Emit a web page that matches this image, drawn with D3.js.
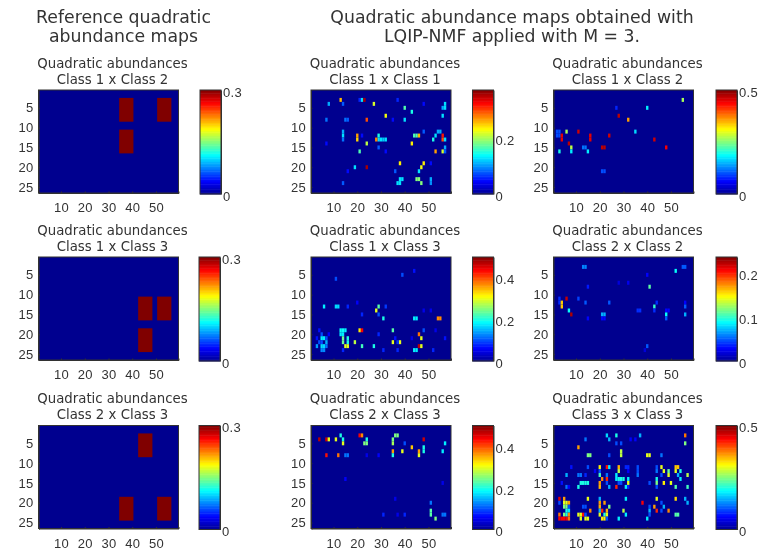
<!DOCTYPE html>
<html>
<head>
<meta charset="utf-8">
<script src="https://cdn.jsdelivr.net/npm/d3@7"></script>
<style>
  html, body { margin: 0; padding: 0; background: #fff; }
  svg { display: block; filter: blur(0.45px); }
  text { font-family: "DejaVu Sans", sans-serif; fill: #333; }
  .tick text { font-family: "Liberation Sans", sans-serif; font-size: 13px; letter-spacing: 0.3px; }
  .ptitle { font-size: 13.3px; }
  .head { font-size: 17.3px; }
  .domain, .tick line { stroke: #333; }
</style>
</head>
<body>
<div id="chart"></div>
<script>
// map size in pixels of the original data: 59 columns by 26 rows
const xTicks = [10, 20, 30, 40, 50];
const yTicks = [5, 10, 15, 20, 25];

// reference maps: blocks of [colFrom, colTo, rowFrom, rowTo], all at 0.3
const ref12 = [[35, 40, 3, 8], [51, 56, 3, 8], [35, 40, 11, 16]];
const ref13 = [[43, 48, 11, 16], [51, 56, 11, 16], [43, 48, 19, 24]];
const ref23 = [[43, 48, 3, 8], [35, 40, 19, 24], [51, 56, 19, 24]];

// estimated maps: [col, row, value]
const est11 = [[8,4,.11],[13,3,.26],[14,4,.08],[21,3,.06],[22,3,.13],[23,3,.36],[27,4,.22],[37,3,.06],[40,5,.17],[43,6,.15],[48,4,.05],[57,4,.13],[57,5,.13],[56,5,.11],[56,7,.13],[32,7,.23],[7,8,.09],[15,8,.09],[16,8,.08],[24,8,.3],[35,8,.05],[40,8,.13],[14,11,.11],[14,12,.13],[14,13,.09],[20,12,.27],[20,13,.25],[22,12,.05],[29,12,.15],[29,13,.13],[28,13,.28],[30,13,.13],[31,13,.12],[32,13,.13],[24,14,.21],[44,12,.17],[45,12,.17],[46,12,.26],[48,11,.08],[54,11,.11],[55,11,.11],[53,12,.13],[52,13,.15],[56,12,.32],[56,13,.3],[57,13,.13],[7,14,.05],[43,14,.24],[29,15,.08],[57,15,.11],[21,16,.17],[32,16,.05],[53,16,.27],[56,16,.22],[57,16,.08],[38,19,.24],[48,19,.24],[47,20,.23],[51,19,.05],[19,20,.13],[24,20,.36],[16,21,.05],[36,21,.08],[46,21,.13],[38,23,.13],[39,23,.13],[37,24,.13],[38,24,.13],[45,23,.19],[46,23,.19],[47,24,.19],[51,23,.11],[51,24,.1],[14,24,.08]];
const est12 = [[55,3,.27],[27,5,.08],[40,5,.18],[28,7,.47],[32,8,.36],[35,11,.17],[2,11,.1],[3,11,.1],[2,12,.1],[3,12,.1],[4,12,.45],[4,13,.45],[6,11,.27],[11,11,.46],[16,12,.45],[16,13,.45],[24,12,.46],[7,14,.47],[43,13,.46],[48,15,.44],[8,15,.28],[8,16,.18],[3,16,.2],[13,15,.12],[14,15,.12],[15,16,.18],[21,15,.47],[22,15,.47],[21,21,.1],[22,21,.1]];
const est13 = [[44,4,.07],[39,5,.1],[11,6,.1],[6,13,.18],[11,13,.17],[12,13,.17],[16,13,.08],[20,12,.06],[22,15,.08],[29,13,.23],[28,14,.3],[29,15,.1],[32,13,.09],[31,16,.2],[44,16,.18],[45,16,.18],[54,16,.37],[55,16,.37],[48,14,.05],[51,14,.05],[4,19,.07],[13,19,.19],[14,19,.19],[15,19,.18],[21,19,.32],[22,19,.44],[35,19,.23],[48,19,.1],[53,19,.05],[13,20,.18],[14,20,.18],[5,20,.1],[8,20,.06],[29,20,.08],[46,20,.38],[47,21,.3],[57,21,.07],[3,21,.07],[5,21,.18],[6,21,.18],[7,21,.1],[14,21,.24],[14,22,.24],[16,21,.2],[16,22,.2],[36,21,.07],[43,21,.05],[4,22,.1],[5,22,.1],[7,22,.15],[19,22,.28],[35,22,.3],[38,22,.3],[37,22,.09],[3,23,.14],[5,23,.17],[6,23,.17],[7,23,.12],[15,23,.3],[16,23,.3],[22,23,.22],[27,23,.2],[46,23,.47],[47,23,.3],[5,24,.13],[6,24,.13],[14,24,.08],[31,24,.08],[37,24,.08],[44,24,.18],[45,24,.18],[52,24,.08]];
const est22 = [[13,3,.06],[14,3,.06],[55,3,.05],[56,3,.05],[52,4,.09],[40,5,.03],[28,7,.02],[32,7,.025],[15,8,.035],[41,8,.11],[3,11,.04],[3,12,.04],[6,11,.22],[11,11,.045],[4,12,.16],[4,13,.16],[14,12,.05],[24,12,.05],[44,12,.04],[56,12,.03],[56,13,.05],[43,13,.1],[43,14,.04],[7,14,.09],[8,15,.225],[36,14,.04],[37,14,.04],[48,14,.03],[49,14,.03],[21,15,.07],[22,15,.07],[21,16,.03],[22,16,.03],[48,15,.09],[48,16,.05],[56,15,.07],[15,16,.03],[40,23,.05],[39,24,.02]];
const est23 = [[13,3,.2],[21,3,.44],[22,3,.37],[36,3,.25],[37,3,.25],[4,4,.47],[7,4,.46],[8,4,.3],[11,4,.3],[14,4,.2],[14,5,.3],[24,4,.2],[23,5,.25],[24,5,.25],[35,4,.25],[35,5,.27],[48,4,.46],[40,5,.1],[57,5,.18],[43,6,.34],[48,6,.2],[48,7,.2],[39,7,.3],[35,7,.36],[46,7,.36],[46,8,.3],[56,7,.18],[7,8,.43],[12,8,.38],[15,8,.12],[16,8,.12],[24,8,.05],[29,8,.06],[35,8,.2],[15,14,.06],[56,15,.05],[36,19,.05],[51,20,.12],[51,22,.23],[51,23,.23],[53,24,.25],[31,23,.08],[37,23,.05],[40,23,.08],[56,23,.12],[57,23,.12]];
const est33 = [[23,3,.17],[27,3,.2],[37,3,.15],[56,3,.38],[14,4,.12],[24,4,.15],[33,4,.06],[35,4,.06],[27,5,.1],[29,5,.1],[56,5,.25],[11,6,.36],[29,7,.28],[15,8,.25],[16,8,.25],[24,8,.1],[29,8,.28],[40,8,.3],[41,8,.3],[46,8,.12],
  [8,11,.07],[15,11,.1],[20,11,.32],[23,11,.43],[24,11,.18],[28,11,.35],[31,11,.08],[32,11,.08],[36,11,.1],[44,11,.1],[46,11,.3],[52,11,.34],[53,11,.34],
  [18,12,.06],[20,12,.1],[28,12,.28],[32,12,.06],[36,12,.1],[44,12,.12],[47,12,.3],[49,12,.24],[52,12,.3],[54,12,.2],
  [6,13,.15],[11,13,.12],[12,13,.12],[14,13,.08],[20,13,.22],[23,13,.12],[27,13,.18],[36,13,.12],[46,13,.1],[49,13,.3],[53,13,.15],[57,13,.28],
  [21,14,.37],[23,14,.42],[27,14,.18],[28,14,.2],[29,14,.2],[30,14,.2],[32,14,.18],[44,14,.2],[54,14,.18],
  [4,15,.07],[12,15,.2],[13,15,.2],[14,15,.2],[15,15,.2],[20,15,.36],[23,15,.1],[28,15,.1],[29,15,.1],[32,15,.3],[41,15,.1],[44,15,.25],[47,15,.32],[50,15,.3],
  [6,16,.12],[7,16,.06],[11,16,.2],[20,16,.35],[24,16,.15],[27,16,.42],[31,16,.18],[32,16,.08],[44,16,.1],[52,16,.23],[57,16,.22],
  [3,19,.45],[5,19,.36],[15,19,.3],[20,19,.15],[31,19,.18],[44,19,.3],[52,19,.33],[56,19,.15],
  [3,20,.1],[5,20,.3],[6,20,.3],[7,20,.36],[20,20,.36],[22,20,.36],[38,20,.44],[46,20,.1],[57,20,.15],
  [5,21,.25],[6,21,.25],[7,21,.1],[13,21,.1],[14,21,.1],[20,21,.35],[24,21,.25],[41,21,.1],[43,21,.36],[47,21,.15],
  [6,22,.2],[7,22,.18],[16,22,.37],[20,22,.15],[21,22,.42],[23,22,.35],[30,22,.28],[41,22,.15],[44,22,.42],[46,22,.1],[49,22,.37],
  [3,23,.38],[5,23,.25],[6,23,.2],[7,23,.37],[11,23,.3],[12,23,.3],[13,23,.43],[14,23,.1],[20,23,.3],[22,23,.2],[23,23,.3],[31,23,.18],[41,23,.1],[52,23,.23],[53,23,.23],
  [3,24,.44],[4,24,.44],[5,24,.44],[6,24,.44],[7,24,.38],[12,24,.3],[14,24,.3],[15,24,.3],[21,24,.32],[22,24,.32],[23,24,.1],[28,24,.18],[40,24,.18]];

// jet colormap, like matlab
const jet = d3.scaleLinear()
    .domain([0, 0.125, 0.375, 0.625, 0.875, 1])
    .range(["#00008f", "#0000ff", "#00ffff", "#ffff00", "#ff0000", "#800000"]);

const panels = [
    { t: "Class 1 x Class 2", x: 38.5, y: 90, max: 0.3, cbTicks: [0, 0.3], blocks: ref12, cbx: 200 },
    { t: "Class 1 x Class 3", x: 38.5, y: 257, max: 0.3, cbTicks: [0, 0.3], blocks: ref13, cbx: 199 },
    { t: "Class 2 x Class 3", x: 38.5, y: 425.5, max: 0.3, cbTicks: [0, 0.3], blocks: ref23, cbx: 199 },
    { t: "Class 1 x Class 1", x: 311, y: 90, max: 0.375, cbTicks: [0, 0.2], cells: est11, cbx: 472.5 },
    { t: "Class 1 x Class 3", x: 311, y: 257, max: 0.5, cbTicks: [0, 0.2, 0.4], cells: est13, cbx: 472.5 },
    { t: "Class 2 x Class 3", x: 311, y: 425.5, max: 0.5, cbTicks: [0, 0.2, 0.4], cells: est23, cbx: 472.5 },
    { t: "Class 1 x Class 2", x: 553.5, y: 90, max: 0.5, cbTicks: [0, 0.5], cells: est12, cbx: 716 },
    { t: "Class 2 x Class 2", x: 553.5, y: 257, max: 0.236, cbTicks: [0, 0.1, 0.2], cells: est22, cbx: 716 },
    { t: "Class 3 x Class 3", x: 553.5, y: 425.5, max: 0.5, cbTicks: [0, 0.5], cells: est33, cbx: 716 }
];

const mapW = 140, mapH = 103, cbW = 21;

const svg = d3.select("#chart").append("svg")
    .attr("width", 771)
    .attr("height", 552);

// big headings
const heads = [
    { x: 123.5, y: 22.5, s: "Reference quadratic" },
    { x: 123.5, y: 42, s: "abundance maps" },
    { x: 512, y: 22.5, s: "Quadratic abundance maps obtained with" },
    { x: 512, y: 42, s: "LQIP-NMF applied with M = 3." }
];
svg.selectAll(".head").data(heads).enter().append("text")
    .attr("class", "head")
    .attr("text-anchor", "middle")
    .attr("x", d => d.x)
    .attr("y", d => d.y)
    .text(d => d.s);

panels.forEach(function (p) {
    const g = svg.append("g").attr("transform", `translate(${p.x},${p.y})`);

    const xScale = d3.scaleLinear().domain([0.5, 59.5]).range([0, mapW]);
    const yScale = d3.scaleLinear().domain([0.5, 26.5]).range([0, mapH]);
    const color = v => jet(v / p.max);

    // titles
    g.append("text").attr("class", "ptitle").attr("text-anchor", "middle")
        .attr("x", mapW / 2 + 4).attr("y", -22.5).text("Quadratic abundances");
    g.append("text").attr("class", "ptitle").attr("text-anchor", "middle")
        .attr("x", mapW / 2 + 4).attr("y", -6.5).text(p.t);

    // background = value 0
    g.append("rect").attr("width", mapW).attr("height", mapH).attr("fill", jet(0));

    if (p.blocks) {
        g.selectAll(".block").data(p.blocks).enter().append("rect")
            .attr("x", d => xScale(d[0] - 0.5))
            .attr("y", d => yScale(d[2] - 0.5))
            .attr("width", d => xScale(d[1] + 0.5) - xScale(d[0] - 0.5))
            .attr("height", d => yScale(d[3] + 0.5) - yScale(d[2] - 0.5))
            .attr("fill", color(p.max));
    } else {
        g.selectAll(".cell").data(p.cells).enter().append("rect")
            .attr("x", d => xScale(d[0] - 0.5))
            .attr("y", d => yScale(d[1] - 0.5))
            .attr("width", xScale(1.5) - xScale(0.5))
            .attr("height", yScale(1.5) - yScale(0.5))
            .attr("fill", d => color(d[2]));
    }

    // axes
    g.append("g").attr("transform", `translate(0,${mapH})`)
        .call(d3.axisBottom(xScale).tickValues(xTicks).tickSize(-1.5).tickPadding(10));
    g.append("g")
        .call(d3.axisLeft(yScale).tickValues(yTicks).tickSize(-1.5).tickPadding(5));
    g.append("rect").attr("width", mapW).attr("height", mapH)
        .attr("fill", "none").attr("stroke", "#333");

    // colorbar
    const cb = svg.append("g").attr("transform", `translate(${p.cbx},${p.y})`);
    const cScale = d3.scaleLinear().domain([0, p.max]).range([mapH + 1, 0]);
    const levels = d3.range(64).map(i => (i + 0.5) / 64 * p.max);
    cb.selectAll(".lev").data(levels).enter().append("rect")
        .attr("x", 0)
        .attr("width", cbW)
        .attr("y", d => cScale(d + p.max / 128))
        .attr("height", (mapH + 1) / 64 + 0.5)
        .attr("fill", color);
    const cbAxis = cb.append("g").attr("transform", `translate(${cbW},0)`)
        .call(d3.axisRight(cScale).tickValues(p.cbTicks).tickFormat(d3.format("~g")).tickSize(0).tickPadding(2));
    cbAxis.selectAll("text").attr("y", 2);
    cb.append("rect").attr("width", cbW).attr("height", mapH + 1)
        .attr("fill", "none").attr("stroke", "#333");
});
</script>
</body>
</html>
